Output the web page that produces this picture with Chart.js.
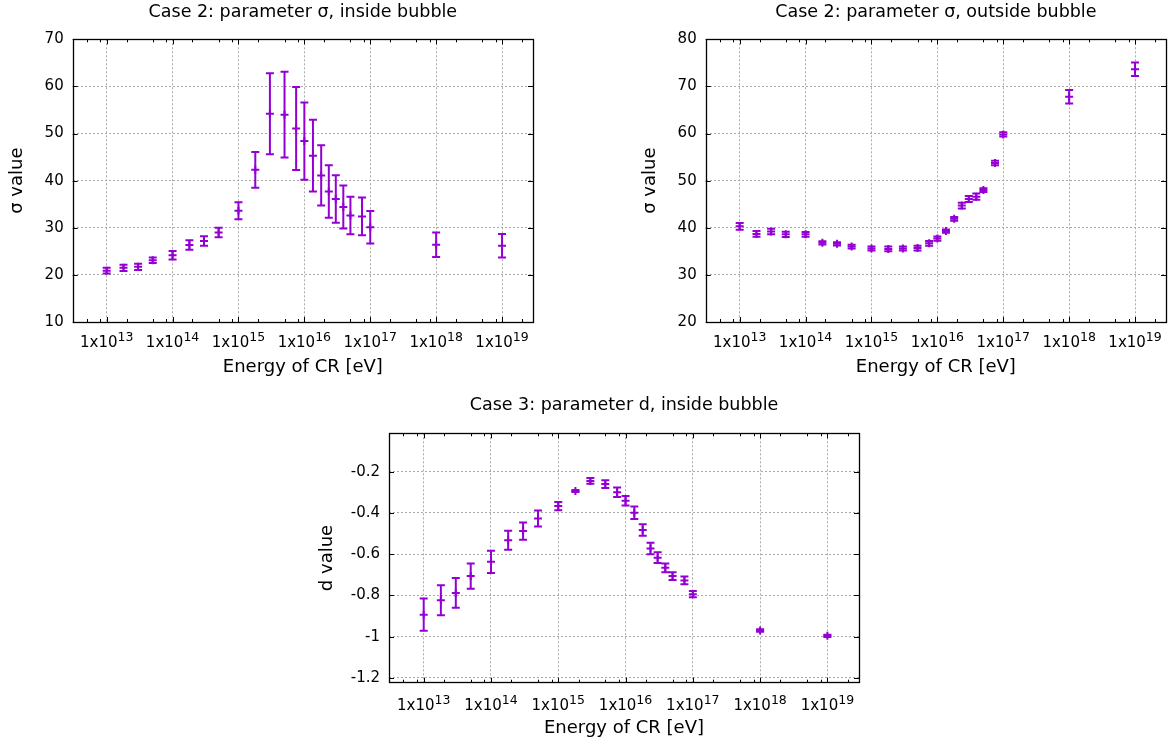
<!DOCTYPE html>
<html>
<head>
<meta charset="utf-8">
<script src="https://cdn.jsdelivr.net/npm/chart.js@4/dist/chart.umd.min.js"></script>
<style>
  body { margin: 0; background: #fff; width: 1174px; height: 742px; position: relative; overflow: hidden; }
  canvas { position: absolute; }
</style>
</head>
<body>
<canvas id="cvsSigmaIn" width="587" height="385" style="left:0;top:0"></canvas>
<canvas id="cvsSigmaOut" width="587" height="385" style="left:587px;top:0"></canvas>
<canvas id="cvsDIn" width="587" height="357" style="left:293px;top:385px"></canvas>
<script>
// ! Datos
const energias = [1e13, 1.8e13, 3e13, 5e13, 1e14, 1.8e14, 3e14, 5e14, 1e15, 1.8e15, 3e15, 5e15, 7.5e15,
  1e16, 1.35e16, 1.8e16, 2.35e16, 3e16, 3.9e16, 5e16, 7.5e16, 1e17, 1e18, 1e19];

const sigmaDentro = [20.9, 21.5, 21.7, 23.1, 24.15, 26.35, 27.2, 29.0, 33.6, 42.3, 54.2, 54.0, 51.05,
  48.4, 45.3, 41.1, 37.7, 36.1, 34.4, 32.6, 32.4, 30.1, 26.4, 26.2];
const sigmaDentroErr = [0.6, 0.65, 0.65, 0.6, 0.9, 1.0, 1.0, 1.0, 1.8, 3.8, 8.6, 9.1, 8.8,
  8.2, 7.6, 6.4, 5.55, 5.05, 4.55, 4.0, 4.0, 3.45, 2.6, 2.5];

const sigmaFuera = [40.3, 38.7, 39.2, 38.6, 38.6, 36.8, 36.6, 36.0, 35.6, 35.5, 35.6, 35.7, 36.7,
  37.7, 39.3, 41.9, 44.7, 46.1, 46.6, 48.0, 53.75, 59.8, 67.8, 73.65];
const sigmaFueraErr = [0.7, 0.6, 0.6, 0.55, 0.5, 0.35, 0.35, 0.4, 0.45, 0.5, 0.45, 0.5, 0.5,
  0.45, 0.35, 0.4, 0.6, 0.65, 0.65, 0.4, 0.5, 0.45, 1.45, 1.45];

const dDentro = [-0.893, -0.823, -0.788, -0.706, -0.637, -0.533, -0.488, -0.427, -0.367, -0.294, -0.245, -0.260, -0.300,
  -0.341, -0.399, -0.483, -0.572, -0.617, -0.666, -0.706, -0.727, -0.794, -0.970, -0.996];
const dDentroErr = [0.078, 0.073, 0.072, 0.061, 0.054, 0.046, 0.042, 0.039, 0.020, 0.005, 0.014, 0.019, 0.023,
  0.023, 0.030, 0.028, 0.028, 0.026, 0.021, 0.019, 0.019, 0.015, 0.006, 0.005];

const exponentesX = [13, 14, 15, 16, 17, 18, 19];
const ticksSigmaDentro = [10, 20, 30, 40, 50, 60, 70];
const ticksSigmaFuera = [20, 30, 40, 50, 60, 70, 80];
const ticksD = [-1.2, -1, -0.8, -0.6, -0.4, -0.2];

const morado = '#9400d3';
const fuente = 'DejaVu Sans';

// ! Barras de error (con tapas) dibujadas con las escalas del grafico
const errorBars = {
  id: 'errorBars',
  afterDatasetsDraw(chart) {
    const { ctx, scales: { x, y } } = chart;
    chart.data.datasets.forEach(ds => {
      ctx.save();
      ctx.strokeStyle = ds.borderColor;
      ctx.lineWidth = 2;
      ds.data.forEach((p, j) => {
        const px = x.getPixelForValue(p.x);
        const top = y.getPixelForValue(p.y + ds.errores[j]);
        const bot = y.getPixelForValue(p.y - ds.errores[j]);
        ctx.beginPath();
        ctx.moveTo(px, top); ctx.lineTo(px, bot);
        ctx.moveTo(px - 4, top); ctx.lineTo(px + 4, top);
        ctx.moveTo(px - 4, bot); ctx.lineTo(px + 4, bot);
        ctx.stroke();
      });
      ctx.restore();
    });
  }
};

// ! Marco, marcas hacia dentro y etiquetas 1x10^n, estilo gnuplot
const marco = {
  id: 'marco',
  afterDraw(chart, args, opts) {
    const { ctx, chartArea: a, scales: { x, y } } = chart;
    ctx.save();
    ctx.strokeStyle = '#000';
    ctx.lineWidth = 1;
    ctx.beginPath();
    x.ticks.forEach(t => {
      const px = Math.round(x.getPixelForValue(t.value)) + 0.5;
      ctx.moveTo(px, a.bottom); ctx.lineTo(px, a.bottom - 5);
      ctx.moveTo(px, a.top); ctx.lineTo(px, a.top + 5);
    });
    for (let e = 12; e <= 19; e++) {
      [2, 5, 8].forEach(m => {
        const v = m * Math.pow(10, e);
        if (v < x.min || v > x.max) return;
        const px = Math.round(x.getPixelForValue(v)) + 0.5;
        ctx.moveTo(px, a.bottom); ctx.lineTo(px, a.bottom - 3);
        ctx.moveTo(px, a.top); ctx.lineTo(px, a.top + 3);
      });
    }
    y.ticks.forEach(t => {
      const py = Math.round(y.getPixelForValue(t.value)) + 0.5;
      ctx.moveTo(a.left, py); ctx.lineTo(a.left + 5, py);
      ctx.moveTo(a.right, py); ctx.lineTo(a.right - 5, py);
    });
    ctx.stroke();
    ctx.lineWidth = 1.3;
    ctx.strokeRect(Math.round(a.left) + 0.5, Math.round(a.top) + 0.5,
      Math.round(a.right - a.left), Math.round(a.bottom - a.top));

    // etiquetas del eje x con exponente
    ctx.fillStyle = '#000';
    ctx.textBaseline = 'alphabetic';
    ctx.textAlign = 'left';
    const base = a.bottom + opts.bajada;
    x.ticks.forEach(t => {
      const px = x.getPixelForValue(t.value);
      const exp = String(Math.round(Math.log10(t.value)));
      ctx.font = `15px "${fuente}"`;
      const w1 = ctx.measureText('1x10').width;
      ctx.font = `12.5px "${fuente}"`;
      const w2 = ctx.measureText(exp).width;
      const x0 = px - (w1 + w2) / 2;
      ctx.font = `15px "${fuente}"`;
      ctx.fillText('1x10', x0, base);
      ctx.font = `12.5px "${fuente}"`;
      ctx.fillText(exp, x0 + w1, base - 6);
    });
    ctx.restore();
  }
};

function grafico(id, cfg) {
  return new Chart(document.getElementById(id), {
    type: 'scatter',
    data: {
      datasets: [{
        data: energias.map((e, i) => ({ x: e, y: cfg.valores[i] })),
        errores: cfg.errores,
        borderColor: morado,
        backgroundColor: morado,
        pointStyle: 'cross',
        pointRadius: 4,
        pointBorderWidth: 2,
        showLine: false
      }]
    },
    options: {
      responsive: false,
      animation: false,
      events: [],
      layout: { padding: { left: 0, top: 0, bottom: 0, right: cfg.derecha } },
      plugins: {
        legend: { display: false },
        tooltip: { enabled: false },
        marco: { bajada: cfg.bajadaX },
        title: {
          display: true,
          fullSize: false,
          text: cfg.titulo,
          color: '#000',
          font: { family: fuente, size: 17.5, weight: 'normal', lineHeight: 1.2 },
          padding: { top: cfg.tituloArriba, bottom: cfg.tituloAbajo }
        }
      },
      scales: {
        x: {
          type: 'logarithmic',
          min: 3.05e12,
          max: 2.95e19,
          afterBuildTicks: s => { s.ticks = exponentesX.map(e => ({ value: Math.pow(10, e) })); },
          afterFit: s => { s.height = cfg.altoX; s.paddingLeft = 0; s.paddingRight = 0; },
          ticks: { display: false, autoSkip: false, maxRotation: 0 },
          grid: { color: '#a8a8a8', lineWidth: 1, drawTicks: false },
          border: { display: false, dash: [2, 2] },
          title: {
            display: true, text: 'Energy of CR [eV]', color: '#000',
            font: { family: fuente, size: 18, lineHeight: 1.2 },
            padding: { top: 0, bottom: cfg.padTituloX }
          }
        },
        y: {
          min: cfg.yMin,
          max: cfg.yMax,
          afterBuildTicks: s => { s.ticks = cfg.ticksY.map(v => ({ value: v })); },
          afterFit: s => { s.width = cfg.anchoY; s.paddingTop = 0; s.paddingBottom = 0; },
          ticks: {
            color: '#000', padding: 9,
            font: { family: fuente, size: 15 },
            callback: v => String(Math.round(v * 10) / 10)
          },
          grid: { color: '#a8a8a8', lineWidth: 1, drawTicks: false },
          border: { display: false, dash: [2, 2] },
          title: {
            display: true, text: cfg.tituloY, color: '#000',
            font: { family: fuente, size: 18, lineHeight: 1.2 },
            padding: { top: cfg.padTituloY, bottom: 0 }
          }
        }
      }
    },
    plugins: [errorBars, marco]
  });
}

// ! Primer Grafico
grafico('cvsSigmaIn', {
  titulo: 'Case 2: parameter σ, inside bubble', tituloY: 'σ value',
  valores: sigmaDentro, errores: sigmaDentroErr,
  yMin: 10, yMax: 70, ticksY: ticksSigmaDentro,
  derecha: 54, anchoY: 72.7, altoX: 63, bajadaX: 24.5, padTituloX: 7.2, padTituloY: 6.2,
  tituloArriba: 1.5, tituloAbajo: 16.8
});

// ! Segundo Grafico
grafico('cvsSigmaOut', {
  titulo: 'Case 2: parameter σ, outside bubble', tituloY: 'σ value',
  valores: sigmaFuera, errores: sigmaFueraErr,
  yMin: 20, yMax: 80, ticksY: ticksSigmaFuera,
  derecha: 8, anchoY: 118.7, altoX: 63, bajadaX: 24.5, padTituloX: 7.2, padTituloY: 53,
  tituloArriba: 1.5, tituloAbajo: 16.8
});

// ! Tercer Grafico
grafico('cvsDIn', {
  titulo: 'Case 3: parameter d, inside bubble', tituloY: 'd value',
  valores: dDentro, errores: dDentroErr,
  yMin: -1.223, yMax: -0.014, ticksY: ticksD,
  derecha: 21, anchoY: 96, altoX: 59.3, bajadaX: 27.3, padTituloX: 3.2, padTituloY: 24,
  tituloArriba: 10, tituloAbajo: 17.3
});
</script>
</body>
</html>
